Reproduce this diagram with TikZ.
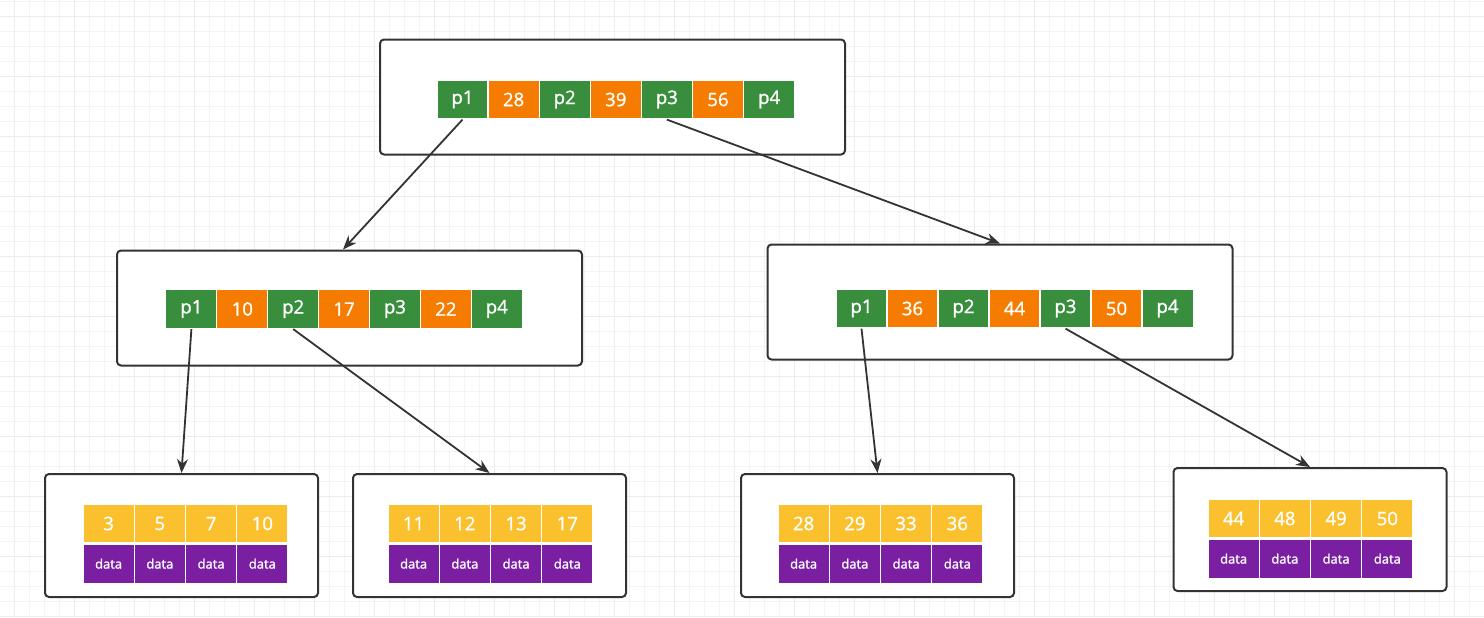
\documentclass[tikz,border=0pt]{standalone}
\usepackage{fontspec}
\setmainfont{Open Sans}
\newfontfamily\cellfont[FakeBold=1.2]{Open Sans}
\usetikzlibrary{arrows.meta,positioning}
\definecolor{ptrgreen}{RGB}{56,142,60}
\definecolor{keyorange}{RGB}{245,124,0}
\definecolor{leafyellow}{RGB}{251,192,45}
\definecolor{datapurple}{RGB}{123,31,162}
\definecolor{boxline}{RGB}{51,51,51}
\definecolor{gridminor}{RGB}{244,244,244}
\definecolor{gridmajor}{RGB}{236,236,236}
\tikzset{
  cell/.style={draw=white,line width=0.6pt,minimum width=25.6pt,minimum height=19.5pt,inner sep=0pt,text=white,font=\cellfont\fontsize{9.3}{10}\selectfont},
  ptr/.style={cell,fill=ptrgreen},
  key/.style={cell,fill=keyorange},
  leafkey/.style={cell,fill=leafyellow},
  leafdata/.style={cell,fill=datapurple,font=\cellfont\fontsize{6.5}{7}\selectfont},
  treebox/.style={draw=boxline,line width=1pt,rounded corners=2pt,fill=white,minimum width=232.5pt,minimum height=57.5pt},
  leafbox/.style={treebox,minimum width=136.5pt,minimum height=61.5pt},
  link/.style={draw=boxline,line width=0.9pt,-{Stealth[length=7pt,width=5.5pt]}}
}
\begin{document}
\begin{tikzpicture}[x=0.5pt,y=-0.5pt]
\useasboundingbox (0,0) rectangle (1484,617);
% background grid
\foreach \gx in {14,29,...,1484} \draw[gridminor,line width=0.5pt] (\gx,0)--(\gx,617);
\foreach \gy in {1.5,16.5,...,617} \draw[gridminor,line width=0.5pt] (0,\gy)--(1484,\gy);
\foreach \gx in {14,74,...,1484} \draw[gridmajor,line width=0.5pt] (\gx,0)--(\gx,617);
\foreach \gy in {16.5,76.5,...,617} \draw[gridmajor,line width=0.5pt] (0,\gy)--(1484,\gy);
% boxes
\node[treebox] (root) at (612.5,97) {};
\node[treebox] (midL) at (349.5,308) {};
\node[treebox] (midR) at (1000,302) {};
\node[leafbox] (leafA) at (181.5,535.5) {};
\node[leafbox] (leafB) at (489.5,535.5) {};
\node[leafbox] (leafC) at (877.5,535.5) {};
\node[leafbox] (leafD) at (1310,529.5) {};
% index cells
\foreach \lab/\sty [count=\i] in {p1/ptr,28/key,p2/ptr,39/key,p3/ptr,56/key,p4/ptr}
  \node[\sty] (r\i) at ({462.5+(\i-1)*51.1},99.5) {\lab};
\foreach \lab/\sty [count=\i] in {p1/ptr,10/key,p2/ptr,17/key,p3/ptr,22/key,p4/ptr}
  \node[\sty] (l\i) at ({191.4+(\i-1)*50.9},309) {\lab};
\foreach \lab/\sty [count=\i] in {p1/ptr,36/key,p2/ptr,44/key,p3/ptr,50/key,p4/ptr}
  \node[\sty] (m\i) at ({861.5+(\i-1)*51},308.5) {\lab};
% leaf cells
\foreach \lab [count=\i] in {3,5,7,10}{
  \node[leafkey] (a\i) at ({108.6+(\i-1)*51.25},523.5) {\lab};
  \node[leafdata,below=0pt of a\i] (ad\i) {data};}
\foreach \lab [count=\i] in {11,12,13,17}{
  \node[leafkey] (b\i) at ({413.6+(\i-1)*51.25},523.5) {\lab};
  \node[leafdata,below=0pt of b\i] (bd\i) {data};}
\foreach \lab [count=\i] in {28,29,33,36}{
  \node[leafkey] (c\i) at ({803.6+(\i-1)*51.25},523.5) {\lab};
  \node[leafdata,below=0pt of c\i] (cd\i) {data};}
\foreach \lab [count=\i] in {44,48,49,50}{
  \node[leafkey] (d\i) at ({1233.6+(\i-1)*51.25},518.5) {\lab};
  \node[leafdata,below=0pt of d\i] (dd\i) {data};}
% pointers
\draw[link] (r1.south) -- ([xshift=-3.25pt]midL.north);
\draw[link] (r5.south) -- (midR.north);
\draw[link] (l1.south) -- (leafA.north);
\draw[link] (l3.south) -- (leafB.north);
\draw[link] (m1.south) -- (leafC.north);
\draw[link] (m5.south) -- (leafD.north);
\end{tikzpicture}
\end{document}
